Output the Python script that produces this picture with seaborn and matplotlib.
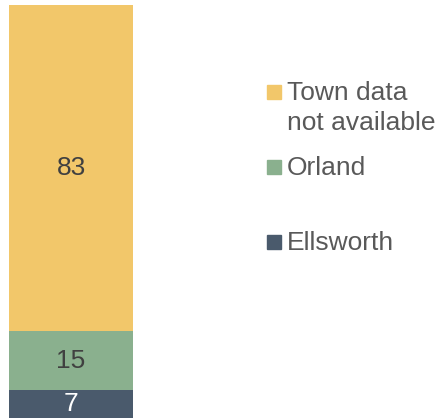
import matplotlib
matplotlib.use("Agg")
import matplotlib.pyplot as plt
import matplotlib.patches as mpatches
import pandas as pd
import seaborn as sns

# data, bottom segment first
categories = ["Ellsworth", "Orland", "Town data\nnot available"]
values = [7, 15, 83]
colors = ["#4A5A6C", "#8AB08E", "#F2C76A"]
label_colors = ["white", "#404040", "#404040"]

sns.set_theme(style="white")
plt.rcParams["font.family"] = ["Liberation Sans", "DejaVu Sans"]

df = pd.DataFrame({"group": ["all"] * 3, "town": categories, "count": values})

fig = plt.figure(figsize=(4.4, 4.18), dpi=100)
ax = fig.add_axes([9 / 440, 0, 124 / 440, 413 / 418])

bottom = 0
for i, row in df.iterrows():
    sns.barplot(data=row.to_frame().T, x="group", y="count", bottom=bottom,
                color=colors[i], width=1, saturation=1, ax=ax, errorbar=None,
                linewidth=0)
    bottom += row["count"]

for i, cont in enumerate(ax.containers):
    ax.bar_label(cont, labels=[str(values[i])], label_type="center",
                 fontsize=19, color=label_colors[i])

ax.set_xlim(-0.5, 0.5)
ax.set_ylim(0, sum(values))
ax.axis("off")

# legend, top entry first; marker lines up with the first text line
legend_y = [92, 167, 242]
for j, idx in enumerate([2, 1, 0]):
    yc = legend_y[j]
    fig.patches.append(mpatches.Rectangle((267 / 440, 1 - (yc + 7) / 418), 14 / 440, 14 / 418,
                                          color=colors[idx], transform=fig.transFigure))
    for k, line in enumerate(categories[idx].split("\n")):
        fig.text(287 / 440, 1 - (yc + 8 + 30 * k) / 418, line, fontsize=19,
                 color="#595959", va="baseline", ha="left")

fig.savefig("out.png", dpi=100)
